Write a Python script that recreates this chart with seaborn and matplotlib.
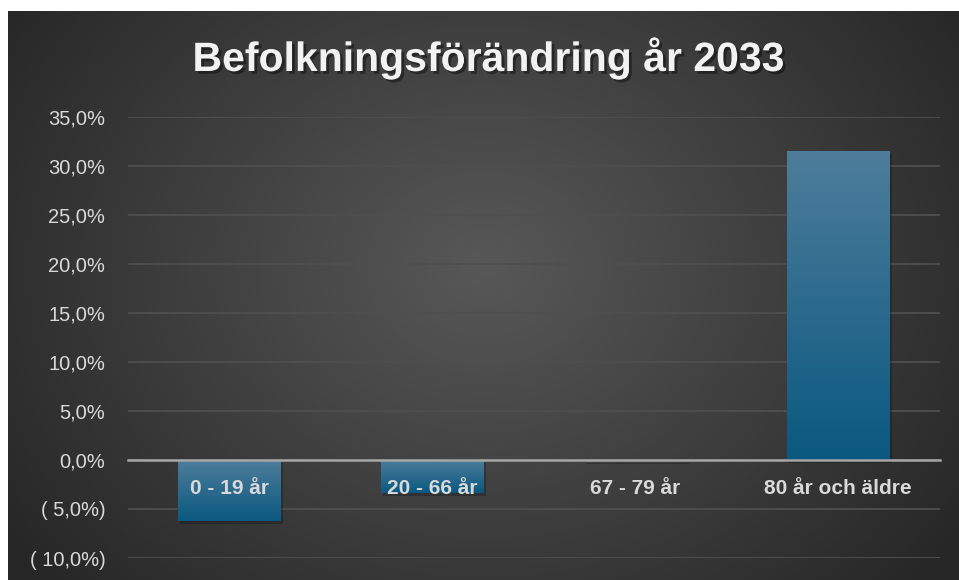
import numpy as np
import pandas as pd
import matplotlib
matplotlib.use("Agg")
import matplotlib.pyplot as plt
import matplotlib.patheffects as pe
from matplotlib.colors import LinearSegmentedColormap, to_rgb
from matplotlib.ticker import FuncFormatter, MultipleLocator
import seaborn as sns

# ---- data ----
categories = ["0 - 19 år", "20 - 66 år", "67 - 79 år", "80 år och äldre"]
values = [-0.062, -0.034, -0.0015, 0.315]
title = "Befolkningsförändring år 2033"

sns.set_theme(style="dark")
plt.rcParams["font.family"] = ["Liberation Sans", "DejaVu Sans"]

W, H = 959, 580
fig = plt.figure(figsize=(W / 100, H / 100), dpi=100, facecolor="white")

# background with radial gradient
bg = fig.add_axes([8 / W, 0, (W - 8) / W, (H - 11) / H], zorder=-10)
ny, nx = 300, 500
yy, xx = np.mgrid[0:ny, 0:nx]
cx, cy = nx * 0.5, ny * 0.45
r = np.sqrt(((xx - cx) / (nx * 0.62)) ** 2 + ((yy - cy) / (ny * 0.85)) ** 2)
r = np.clip(r, 0, 1)
c_in = np.array(to_rgb("#585858"))
c_out = np.array(to_rgb("#262626"))
img = c_in[None, None, :] * (1 - r[..., None]) + c_out[None, None, :] * r[..., None]
bg.imshow(img, aspect="auto", extent=(0, 1, 0, 1))
bg.set_axis_off()

# main axes
ax = fig.add_axes([127.5 / W, 22 / H, (939.5 - 127.5) / W, (463 - 22) / H])
ax.patch.set_alpha(0)

df = pd.DataFrame({"Åldersgrupp": categories, "Förändring": values})
sns.barplot(data=df, x="Åldersgrupp", y="Förändring", color="#3a7396",
            width=0.507, ax=ax, zorder=3)

top_c = to_rgb("#4e7d9b")
bot_c = to_rgb("#0a5880")
grad = np.linspace(0, 1, 256)[:, None]
cmap = LinearSegmentedColormap.from_list("bar", [top_c, bot_c])
for p in ax.patches:
    x0, y0 = p.get_x(), p.get_y()
    w, h = p.get_width(), p.get_height()
    lo, hi = min(y0, y0 + h), max(y0, y0 + h)
    p.set_edgecolor("none")
    p.set_linewidth(0)
    p.set_path_effects([pe.SimplePatchShadow(offset=(2, -2), alpha=0.22, shadow_rgbFace="black"), pe.Normal()])
    if abs(h) > 0.005:
        im = ax.imshow(grad, cmap=cmap, aspect="auto", extent=(x0, x0 + w, lo, hi),
                       origin="upper", zorder=3.5, interpolation="bilinear")
        im.set_clip_path(p)
    else:
        p.set_facecolor("#5d93b5")

ax.set_xlim(-0.5, 3.5)
ax.set_ylim(-0.10, 0.35)
ax.yaxis.set_major_locator(MultipleLocator(0.05))


def fmt(v, pos):
    s = f"{abs(v) * 100:.1f}".replace(".", ",")
    if v < -1e-9:
        return f"( {s}%)"
    return f"{s}%"


ax.yaxis.set_major_formatter(FuncFormatter(fmt))
ax.grid(axis="y", color="#4f4f4f", linewidth=1.3)
ax.grid(axis="x", visible=False)
ax.yaxis.set_zorder(0.5)
ax.xaxis.set_zorder(10)
for s in ["top", "right", "left"]:
    ax.spines[s].set_visible(False)
ax.spines["bottom"].set_position(("data", 0))
ax.spines["bottom"].set_color("#a6a6a6")
ax.spines["bottom"].set_linewidth(1.8)
ax.spines["bottom"].set_zorder(4)

ax.tick_params(axis="y", length=0, pad=16, labelsize=14.5, labelcolor="#d9d9d9")
ax.tick_params(axis="x", length=0, pad=14, labelsize=15, labelcolor="#d9d9d9")
for lbl in ax.get_xticklabels():
    lbl.set_fontweight("bold")
ax.set_xlabel("")
ax.set_ylabel("")

fig.text(488 / W, 1 - 58 / H, title, ha="center", va="center",
         fontsize=29.5, fontweight="bold", color="#f2f2f2",
         path_effects=[pe.SimplePatchShadow(offset=(2, -2), alpha=0.4, shadow_rgbFace="black"), pe.Normal()])

fig.savefig("out.png", dpi=100, facecolor="white")
